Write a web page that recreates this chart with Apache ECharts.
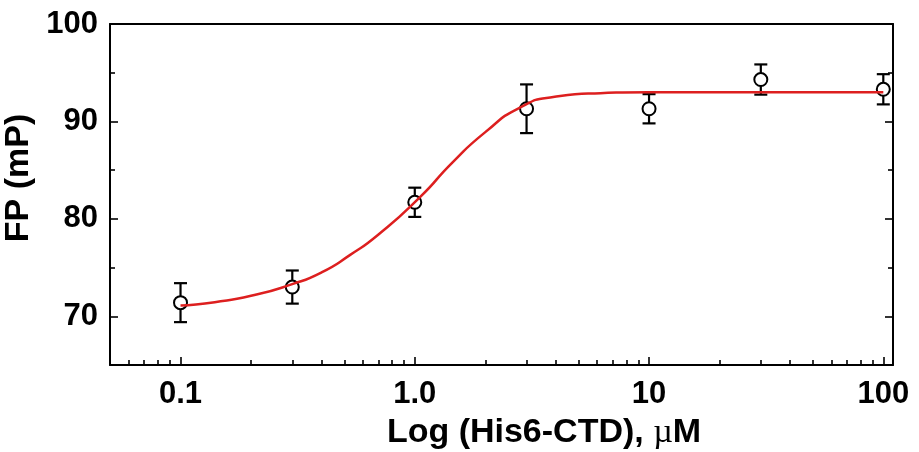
<!DOCTYPE html>
<html>
<head>
<meta charset="utf-8">
<script src="https://cdn.jsdelivr.net/npm/echarts@6/dist/echarts.min.js"></script>
<style>
  html, body { margin: 0; padding: 0; background: #fff; }
  #chart { width: 919px; height: 452px; }
</style>
</head>
<body>
<div id="chart"></div>
<script>
// measured points (concentration in uM, FP in mP, error)
const concX = [0.1, 0.3, 1, 3, 10, 30, 100]
const fpMean = [71.4, 73.0, 81.7, 91.3, 91.3, 94.3, 93.3]
const fpErr = [2.0, 1.7, 1.5, 2.5, 1.5, 1.55, 1.55]

// fitted curve
const fitX = [0.1, 0.14, 0.2, 0.3, 0.4, 0.53, 0.7, 1.05, 1.45, 2.0, 2.8, 3.9, 6.2, 10, 30, 100]
const fitY = [71.1, 71.45, 72.1, 73.3, 74.5, 76.3, 78.4, 82.2, 85.8, 88.9, 91.4, 92.5, 92.9, 93.0, 93.0, 93.0]

// axis ticks
const xMajor = [0.1, 1, 10, 100]
const xTickLabels = ['0.1', '1.0', '10', '100']
const xMinor = [0.06, 0.07, 0.08, 0.09, 0.2, 0.3, 0.4, 0.5, 0.6, 0.7, 0.8, 0.9,
  2, 3, 4, 5, 6, 7, 8, 9, 20, 30, 40, 50, 60, 70, 80, 90]
const yMajor = [70, 80, 90, 100]
const yMinor = [75, 85, 95]

const font = "'Liberation Sans', Arial, sans-serif"
const lineStyle = { color: '#000', width: 2 }
const tickStyle = { color: '#000', width: 1.6 }

const chart = echarts.init(document.getElementById('chart'))

const xBase = {
  type: 'log',
  logBase: 10,
  min: 0.05,
  max: 110,
  splitLine: { show: false }
}
const yBase = {
  type: 'value',
  min: 65,
  max: 100,
  interval: 5,
  splitLine: { show: false }
}

chart.setOption({
  animation: false,
  backgroundColor: '#fff',
  grid: { left: 110, right: 26, top: 24, bottom: 87, outerBoundsMode: 'none', containLabel: false },
  xAxis: [
    {
      ...xBase,
      position: 'bottom',
      axisLine: { lineStyle: lineStyle },
      axisTick: { inside: true, length: 8, lineStyle: tickStyle, customValues: xMajor },
      axisLabel: {
        customValues: xMajor,
        margin: 14,
        fontSize: 31,
        fontWeight: 'bold',
        fontFamily: font,
        color: '#000',
        formatter: (v) => xTickLabels[xMajor.findIndex(m => Math.abs(m - v) < m * 1e-6)] || ''
      },
      name: 'Log (His6-CTD), {mu|\u00b5}M',
      nameLocation: 'middle',
      nameGap: 51,
      nameTextStyle: {
        fontSize: 34,
        fontWeight: 'bold',
        fontFamily: font,
        color: '#000',
        padding: [0, 0, 0, 85],
        rich: {
          mu: { fontSize: 34, fontWeight: 'normal', fontFamily: "'Liberation Serif', serif", color: '#000' }
        }
      }
    },
    {
      ...xBase,
      position: 'bottom',
      axisLine: { show: false },
      axisTick: { inside: true, length: 5, lineStyle: tickStyle, customValues: xMinor },
      axisLabel: { show: false }
    },
    {
      ...xBase,
      position: 'top',
      axisLine: { lineStyle: lineStyle },
      axisTick: { show: false },
      axisLabel: { show: false }
    }
  ],
  yAxis: [
    {
      ...yBase,
      position: 'left',
      axisLine: { show: true, lineStyle: lineStyle },
      axisTick: { inside: true, length: 8, lineStyle: tickStyle, customValues: yMajor },
      axisLabel: {
        customValues: yMajor,
        margin: 12,
        fontSize: 31,
        fontWeight: 'bold',
        fontFamily: font,
        color: '#000'
      },
      name: 'FP (mP)',
      nameLocation: 'middle',
      nameGap: 58,
      nameTextStyle: {
        fontSize: 34,
        fontWeight: 'bold',
        fontFamily: font,
        color: '#000',
        padding: [0, 0, 0, 33]
      }
    },
    {
      ...yBase,
      position: 'left',
      axisLine: { show: false },
      axisTick: { inside: true, length: 5, lineStyle: tickStyle, customValues: yMinor },
      axisLabel: { show: false }
    },
    {
      ...yBase,
      position: 'right',
      axisLine: { show: true, lineStyle: lineStyle },
      axisTick: { inside: true, length: 8, lineStyle: tickStyle, customValues: yMajor },
      axisLabel: { show: false }
    },
    {
      ...yBase,
      position: 'right',
      axisLine: { show: false },
      axisTick: { inside: true, length: 5, lineStyle: tickStyle, customValues: yMinor },
      axisLabel: { show: false }
    }
  ],
  series: [
    {
      name: 'error',
      type: 'custom',
      z: 2,
      data: concX.map((x, i) => [x, fpMean[i] - fpErr[i], fpMean[i] + fpErr[i]]),
      renderItem: (params, api) => {
        const lo = api.coord([api.value(0), api.value(1)])
        const hi = api.coord([api.value(0), api.value(2)])
        const w = 6.5
        const style = { stroke: '#000', lineWidth: 2.2 }
        return {
          type: 'group',
          children: [
            { type: 'line', shape: { x1: lo[0], y1: lo[1], x2: hi[0], y2: hi[1] }, style },
            { type: 'line', shape: { x1: lo[0] - w, y1: lo[1], x2: lo[0] + w, y2: lo[1] }, style },
            { type: 'line', shape: { x1: hi[0] - w, y1: hi[1], x2: hi[0] + w, y2: hi[1] }, style }
          ]
        }
      }
    },
    {
      name: 'FP',
      type: 'scatter',
      z: 3,
      symbol: 'circle',
      symbolSize: 13,
      itemStyle: { color: '#fff', borderColor: '#000', borderWidth: 2, opacity: 1 },
      data: concX.map((x, i) => [x, fpMean[i]])
    },
    {
      name: 'fit',
      type: 'line',
      z: 4,
      smooth: 0.6,
      showSymbol: false,
      lineStyle: { color: '#dd1f1f', width: 2.5 },
      data: fitX.map((x, i) => [x, fitY[i]])
    }
  ]
})
</script>
</body>
</html>
